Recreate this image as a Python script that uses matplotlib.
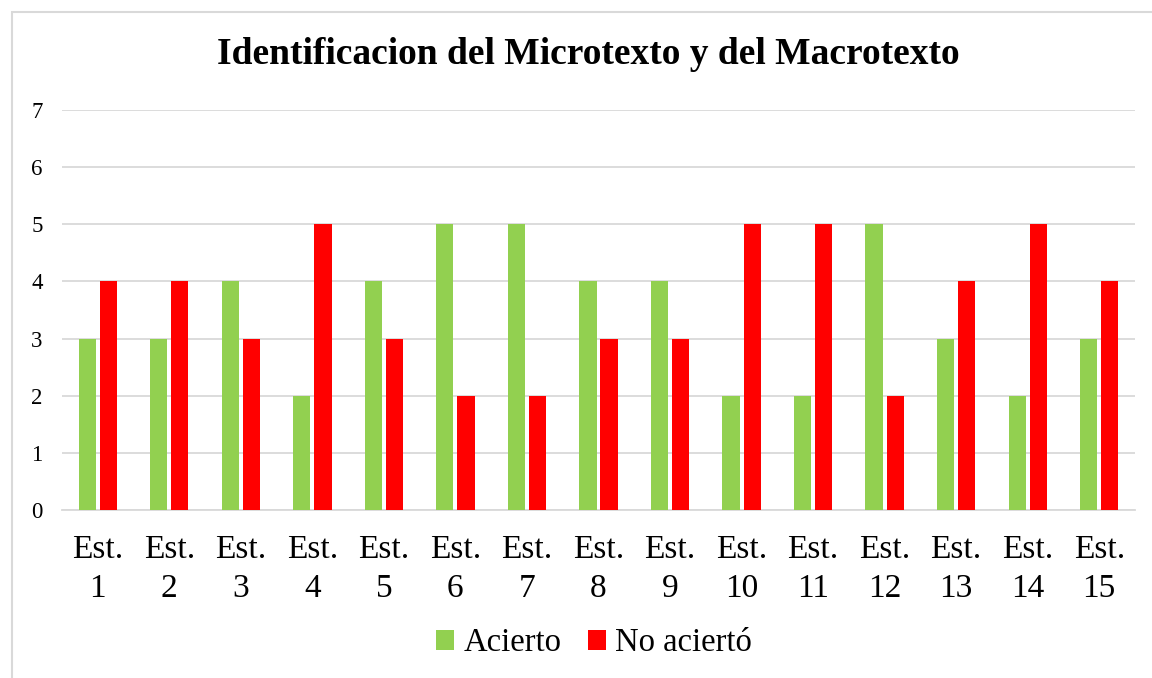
import numpy as np
import matplotlib
matplotlib.use("Agg")
import matplotlib.pyplot as plt
from matplotlib.patches import Rectangle

estudiantes = [f"Est.\n{i}" for i in range(1, 16)]
acierto = [3, 3, 4, 2, 4, 5, 5, 4, 4, 2, 2, 5, 3, 2, 3]
no_acerto = [4, 4, 3, 5, 3, 2, 2, 3, 3, 5, 5, 2, 4, 5, 4]

plt.rcParams["font.family"] = ["Liberation Serif", "DejaVu Serif"]

fig = plt.figure(figsize=(11.52, 6.78), dpi=100)
ax = fig.add_axes([62 / 1152, 1 - 510 / 678, (1135 - 62) / 1152, 400 / 678])

x = np.arange(len(estudiantes))
w = 0.24
gap = 0.055
ax.bar(x - (w + gap) / 2, acierto, w, color="#92D050", label="Acierto", zorder=3)
ax.bar(x + (w + gap) / 2, no_acerto, w, color="#FF0000", label="No aciertó", zorder=3)

ax.set_xlim(-0.5, len(estudiantes) - 0.5)
ax.set_ylim(0, 7)
ax.set_yticks(range(0, 8))
ax.yaxis.grid(True, color="#D9D9D9", linewidth=1.3, zorder=0)
ax.set_axisbelow(True)
for s in ["top", "right", "left"]:
    ax.spines[s].set_visible(False)
ax.spines["bottom"].set_color("#D9D9D9")
ax.spines["bottom"].set_linewidth(1.3)
ax.tick_params(axis="y", length=0, labelsize=16.5, pad=14)
ax.tick_params(axis="x", length=0, labelsize=24, pad=18)
ax.set_xticks(x)
ax.set_xticklabels(estudiantes, linespacing=1.35)

fig.text(588 / 1152, 1 - 55 / 678, "Identificacion del Microtexto y del Macrotexto",
         ha="center", va="center", fontsize=27, fontweight="bold")

fig.legend(loc="center", bbox_to_anchor=(594 / 1152, 1 - 643 / 678), ncol=2,
           frameon=False, fontsize=23.5, handlelength=0.55, handleheight=0.55,
           columnspacing=0.8, handletextpad=0.3)

fig.patches.append(Rectangle((12 / 1152, -0.1), 1.2, 1.1 - 12 / 678,
                             transform=fig.transFigure, fill=False,
                             edgecolor="#D9D9D9", linewidth=1.5))

fig.savefig("out.png", dpi=100)
